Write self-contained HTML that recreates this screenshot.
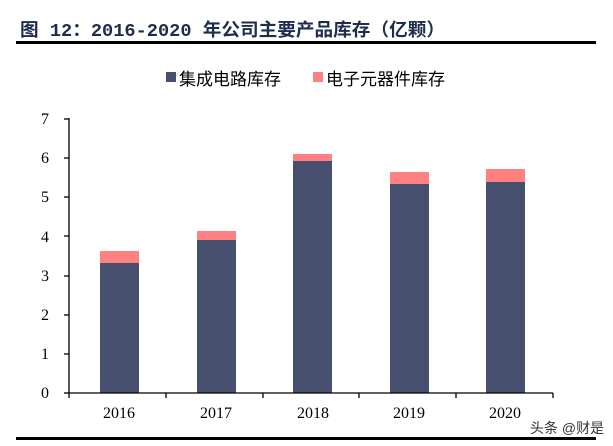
<!DOCTYPE html>
<html><head><meta charset="utf-8"><style>
body{margin:0;background:#fff;}
svg{display:block;}
</style></head><body>
<svg width="613" height="446" xmlns="http://www.w3.org/2000/svg">
<text x="20" y="36" font-family="'Liberation Mono','Noto Sans CJK SC',monospace" font-size="18" font-weight="bold" fill="#1f2d4d" textLength="425" lengthAdjust="spacingAndGlyphs">图 12：2016-2020 年公司主要产品库存（亿颗）</text>
<rect x="16" y="41" width="580" height="3" fill="#000"/>
<rect x="166" y="72" width="10" height="10" fill="#46506e"/>
<text x="179" y="85" font-family="'Liberation Sans','Noto Sans CJK SC',sans-serif" font-size="17" fill="#000">集成电路库存</text>
<rect x="313" y="72" width="10" height="10" fill="#ff8080"/>
<text x="326" y="85" font-family="'Liberation Sans','Noto Sans CJK SC',sans-serif" font-size="17" fill="#000">电子元器件库存</text>
<g font-family="'Liberation Serif','Noto Serif CJK SC',serif" font-size="16" fill="#000" text-anchor="end">
<text x="49" y="398">0</text><text x="49" y="359">1</text><text x="49" y="320">2</text><text x="49" y="281">3</text><text x="49" y="242">4</text><text x="49" y="202">5</text><text x="49" y="163">6</text><text x="49" y="124">7</text>
</g>
<g fill="#46506e">
<rect x="100" y="263" width="39" height="130"/>
<rect x="197" y="240" width="39" height="153"/>
<rect x="293" y="161" width="39" height="232"/>
<rect x="390" y="184" width="39" height="209"/>
<rect x="486" y="182" width="39" height="211"/>
</g>
<g fill="#ff8080">
<rect x="100" y="251" width="39" height="12"/>
<rect x="197" y="231" width="39" height="9"/>
<rect x="293" y="154" width="39" height="7"/>
<rect x="390" y="172" width="39" height="12"/>
<rect x="486" y="169" width="39" height="13"/>
</g>
<g stroke="#000" stroke-width="1.3">
<line x1="69" y1="118" x2="69" y2="393"/>
<line x1="69" y1="393" x2="553" y2="393"/>
<line x1="64" y1="393" x2="69" y2="393"/><line x1="64" y1="354" x2="69" y2="354"/><line x1="64" y1="315" x2="69" y2="315"/><line x1="64" y1="276" x2="69" y2="276"/><line x1="64" y1="236" x2="69" y2="236"/><line x1="64" y1="197" x2="69" y2="197"/><line x1="64" y1="158" x2="69" y2="158"/><line x1="64" y1="119" x2="69" y2="119"/>
<line x1="69" y1="393" x2="69" y2="398"/><line x1="166" y1="393" x2="166" y2="398"/><line x1="263" y1="393" x2="263" y2="398"/><line x1="359" y1="393" x2="359" y2="398"/><line x1="456" y1="393" x2="456" y2="398"/><line x1="553" y1="393" x2="553" y2="398"/>
</g>
<g font-family="'Liberation Serif','Noto Serif CJK SC',serif" font-size="16" fill="#000" text-anchor="middle">
<text x="119" y="418">2016</text><text x="216" y="418">2017</text><text x="313" y="418">2018</text><text x="409" y="418">2019</text><text x="505" y="418">2020</text>
</g>
<text x="530" y="433" font-family="'Liberation Sans','Noto Sans CJK SC',sans-serif" font-size="14" fill="#333">头条 @财是</text>
<rect x="16" y="437" width="580" height="3" fill="#000"/>
</svg>
</body></html>
